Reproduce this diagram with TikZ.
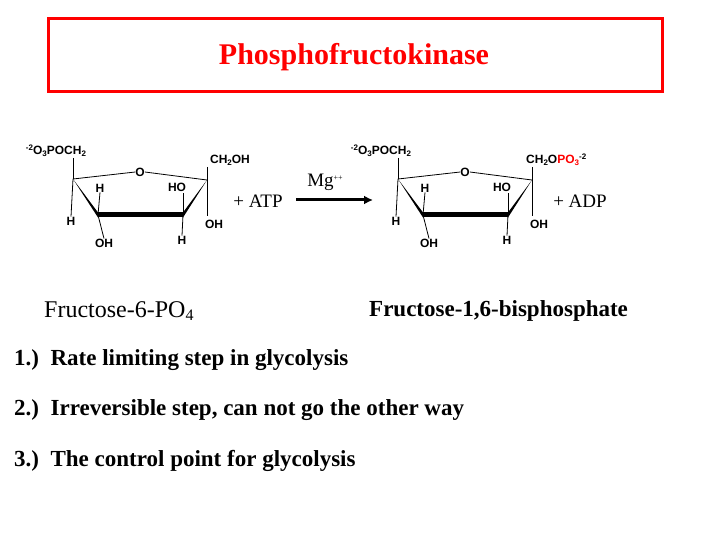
\documentclass[tikz,border=0pt]{standalone}
\usepackage{fontspec}
\usetikzlibrary{arrows.meta,calc}
\setmainfont{Liberation Serif}
\newfontfamily\chem{Liberation Sans}
\newcommand{\sbs}[1]{\raisebox{-0.3ex}{\fontsize{8}{8}\selectfont #1}}
\newcommand{\sps}[1]{\raisebox{0.6ex}{\fontsize{8}{8}\selectfont #1}}
\begin{document}
\begin{tikzpicture}[x=1pt,y=-1pt,
  lab/.style={font=\chem\bfseries\fontsize{12}{12}\selectfont, inner sep=0pt},
  bond/.style={line width=0.8pt},
  big/.style={font=\fontsize{24}{24}\selectfont, inner sep=0pt, anchor=west},
  pts/.style={font=\bfseries\fontsize{23}{23}\selectfont, inner sep=0pt, anchor=west}]
\useasboundingbox (0,0) rectangle (720,540);
\node[draw=red, line width=3pt, minimum width=614pt, minimum height=73pt, anchor=north west] (box) at (47,17) {};
\node[text=red, font=\bfseries\fontsize{30}{30}\selectfont] (title) at (354,57) {Phosphofructokinase};

\foreach \o/\n in {0/a,325/b}{
 \begin{scope}[xshift=\o]
  \coordinate (\n c5) at (73,179);
  \coordinate (\n c2) at (207,180);
  \coordinate (\n c4) at (98,215);
  \coordinate (\n c3) at (183,215);
  \node[lab] (\n O) at (140,172) {O};
  \draw[bond] (\n c5) -- (\n O.west);
  \draw[bond] (\n O.east) -- (\n c2);
  \fill (\n c5) -- ($(\n c4)+(0,-2.5)$) -- ($(\n c4)+(0,2.5)$) -- cycle;
  \draw[line width=5pt] (\n c4) -- (\n c3);
  \fill (\n c2) -- ($(\n c3)+(0,-2.5)$) -- ($(\n c3)+(0,2.5)$) -- cycle;
  \node[lab] (\n Hl) at (71,221) {H};
  \draw[bond] (\n c5) -- (\n Hl.north);
  \node[lab] (\n Hu) at (100,188) {H};
  \draw[bond] (\n c4) -- (\n Hu.south);
  \node[lab] (\n OHl) at (104,243) {OH};
  \draw[bond] (\n c4) -- (\n OHl.north);
  \node[lab] (\n HO) at (177,187) {HO};
  \draw[bond] (\n c3) -- (183,193);
  \node[lab] (\n Hb) at (182,240) {H};
  \draw[bond] (\n c3) -- (\n Hb.north);
  \node[lab] (\n OHr) at (214,224) {OH};
  \draw[bond] (\n c2) -- (207,216);
 \end{scope}
}
\node[lab] (aP) at (56,151) {\sps{-2}O\sbs{3}POCH\sbs{2}};
\draw[bond] (73,158) -- (ac5);
\node[lab] (aCH) at (230,160) {CH\sbs{2}OH};
\draw[bond] (207,167) -- (ac2);
\node[lab] (bP) at (381,151) {\sps{-2}O\sbs{3}POCH\sbs{2}};
\draw[bond] (398,158) -- (bc5);
\node[lab, anchor=west] (bCH) at (526,160) {CH\sbs{2}O\textcolor{red}{PO\sbs{3}}\sps{-2}};
\draw[bond] (532,167) -- (bc2);

\node[font=\fontsize{19}{19}\selectfont, inner sep=0pt] (atp) at (258,201) {+ ATP};
\coordinate (arS) at (296,200);
\coordinate (arE) at (373,200);
\draw[line width=3pt, -{Latex[length=9pt,width=9pt]}] (arS) -- (arE);
\node[font=\fontsize{19}{19}\selectfont, inner sep=0pt] (mg) at (325,182) {Mg\sps{++}};
\node[font=\fontsize{19}{19}\selectfont, inner sep=0pt] (adp) at (580,201) {+ ADP};

\node[big] (f6p) at (44,311) {Fructose-6-PO\raisebox{-0.3ex}{\fontsize{16}{16}\selectfont 4}};
\node[big, font=\bfseries\fontsize{23}{23}\selectfont] (f16) at (369,311) {Fructose-1,6-bisphosphate};
\node[pts] (p1) at (14,360) {1.)\ \ Rate limiting step in glycolysis};
\node[pts] (p2) at (14,410) {2.)\ \ Irreversible step, can not go the other way};
\node[pts] (p3) at (14,461) {3.)\ \ The control point for glycolysis};
\end{tikzpicture}
\end{document}
